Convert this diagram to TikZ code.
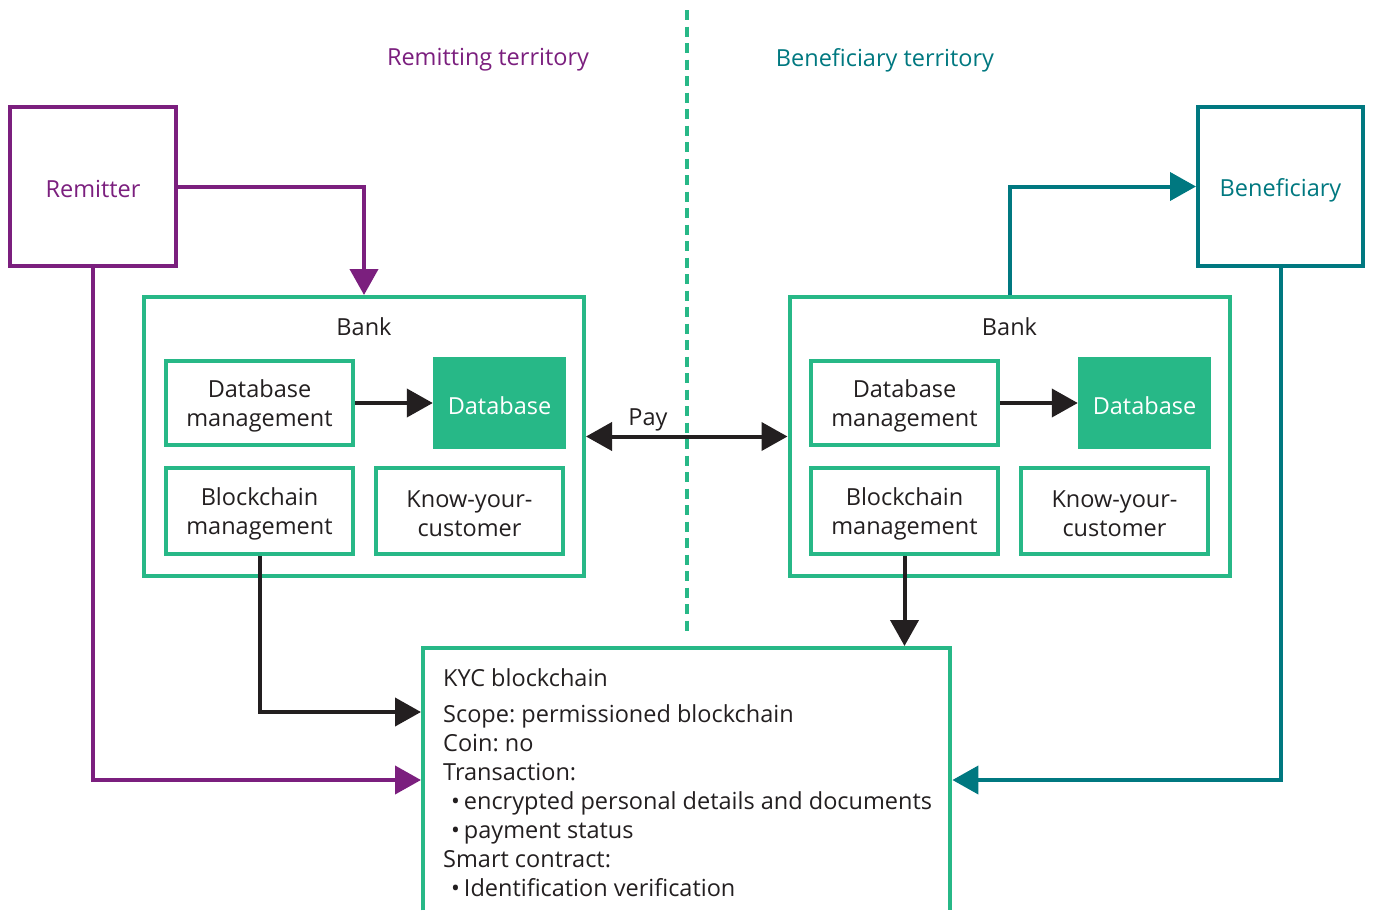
\documentclass[tikz,border=0pt]{standalone}
\usepackage{fontspec}
\setmainfont{Open Sans}
\usetikzlibrary{arrows.meta}
\definecolor{plum}{RGB}{123,31,126}
\definecolor{deepteal}{RGB}{0,120,128}
\definecolor{jade}{RGB}{39,184,135}
\definecolor{ink}{RGB}{35,31,32}
\frenchspacing
\newcommand{\txt}{\fontsize{23.5}{29}\selectfont}
\tikzset{
  lbl/.style={font=\txt, text=ink, align=center},
  party/.style={draw=#1, line width=4pt, minimum width=166pt, minimum height=159pt, inner sep=0pt,
    font=\txt, text=#1},
  bankbox/.style={draw=jade, line width=4pt, minimum width=440pt, minimum height=279pt, inner sep=0pt},
  unit/.style={draw=jade, line width=4pt, minimum width=187pt, minimum height=86pt, inner sep=0pt, lbl},
  store/.style={fill=jade, minimum width=133pt, minimum height=92pt, inner sep=0pt,
    font=\txt, text=white},
  link/.style={line width=4pt, draw=#1, -{Triangle[length=26pt,width=28pt]}},
  zone/.style={font=\txt, text=#1},
}
\begin{document}
\begin{tikzpicture}[x=1pt,y=-1pt]
\useasboundingbox (0,0) rectangle (1375,910);

% territory border
\coordinate (bordtop) at (687,10);
\coordinate (bordbot) at (687,635);
\draw[jade, line width=4pt, dash pattern=on 10pt off 6.5pt] (bordtop) -- (bordbot);
\node[zone=plum] (zl) at (488,60) {Remitting territory};
\node[zone=deepteal] (zr) at (885,60) {Beneficiary territory};

% parties
\node[party=plum] (rem) at (93,186.5) {};
\node[font=\txt, text=plum] (remt) at (93,189) {Remitter};
\node[party=deepteal, minimum width=165pt] (ben) at (1280.5,186.5) {};
\node[font=\txt, text=deepteal] (bent) at (1280.5,190) {Beneficiary};

% remitting bank
\node[bankbox] (bankL) at (364,436.5) {};
\node[lbl] (bankLt) at (364,327) {Bank};
\node[unit, minimum height=84pt] (dbmL) at (259.5,403) {};
\node[lbl] (dbmLt) at (259.5,406) {Database\\management};
\node[store] (dbL) at (499.5,403) {};
\node[font=\txt, text=white] (dbLt) at (499.5,406) {Database};
\node[unit] (bcL) at (259.5,511) {};
\node[lbl] (bcLt) at (259.5,514) {Blockchain\\management};
\node[unit] (kycL) at (469.5,511) {};
\node[lbl] (kycLt) at (469.5,514) {Know-your-\\customer};

% beneficiary bank
\node[bankbox] (bankR) at (1009.5,436.5) {};
\node[lbl] (bankRt) at (1009.5,327) {Bank};
\node[unit, minimum height=84pt] (dbmR) at (904.5,403) {};
\node[lbl] (dbmRt) at (904.5,406) {Database\\management};
\node[store] (dbR) at (1144.5,403) {};
\node[font=\txt, text=white] (dbRt) at (1144.5,406) {Database};
\node[unit] (bcR) at (904.5,511) {};
\node[lbl] (bcRt) at (904.5,514) {Blockchain\\management};
\node[unit] (kycR) at (1114.5,511) {};
\node[lbl] (kycRt) at (1114.5,514) {Know-your-\\customer};

% shared KYC ledger (runs off the lower edge)
\node[minimum width=531pt, minimum height=264pt, inner sep=0pt, anchor=north west] (kyc) at (421,646) {};
\draw[jade, line width=4pt] ([shift={(2pt,0pt)}]kyc.south west) |- ([shift={(-2pt,-2pt)}]kyc.north east)
  -- ([shift={(-2pt,0pt)}]kyc.south east);
\node[anchor=base west, inner sep=0pt, font=\txt, text=ink] (kyct) at (443,686) {KYC blockchain};
\node[anchor=north west, inner sep=0pt, align=left, font=\txt, text=ink] (kycb) at (443,704)
  {Scope: permissioned blockchain\\
   Coin: no\\
   Transaction:\\
   \hspace{8pt}\textbullet\,encrypted personal details and documents\\
   \hspace{8pt}\textbullet\,payment status\\
   Smart contract:\\
   \hspace{8pt}\textbullet\,Identification verification};

% helper rows for the elbow connectors
\coordinate (row712) at (0,712);
\coordinate (row780) at (0,780);

% connectors
\draw[link=plum] (rem.east) -| (bankL.north);
\draw[link=plum] (rem.south) |- (kyc.west |- row780);
\draw[link=ink] (bcL.south) |- (kyc.west |- row712);
\draw[link=ink] (dbmL.east) -- (dbL.west);
\draw[link=ink] (dbmR.east) -- (dbR.west);
\draw[link=ink] (bcR.south) -- (bcR.south |- kyc.north);
\draw[link=deepteal] (bankR.north) |- (ben.west);
\draw[link=deepteal] (ben.south) |- (kyc.east |- row780);
\draw[line width=4pt, draw=ink, {Triangle[length=26pt,width=28pt]}-{Triangle[length=26pt,width=28pt]}] (bankL.east) -- (bankR.west);
\node[lbl] (pay) at (648,420) {Pay};
\end{tikzpicture}
\end{document}
